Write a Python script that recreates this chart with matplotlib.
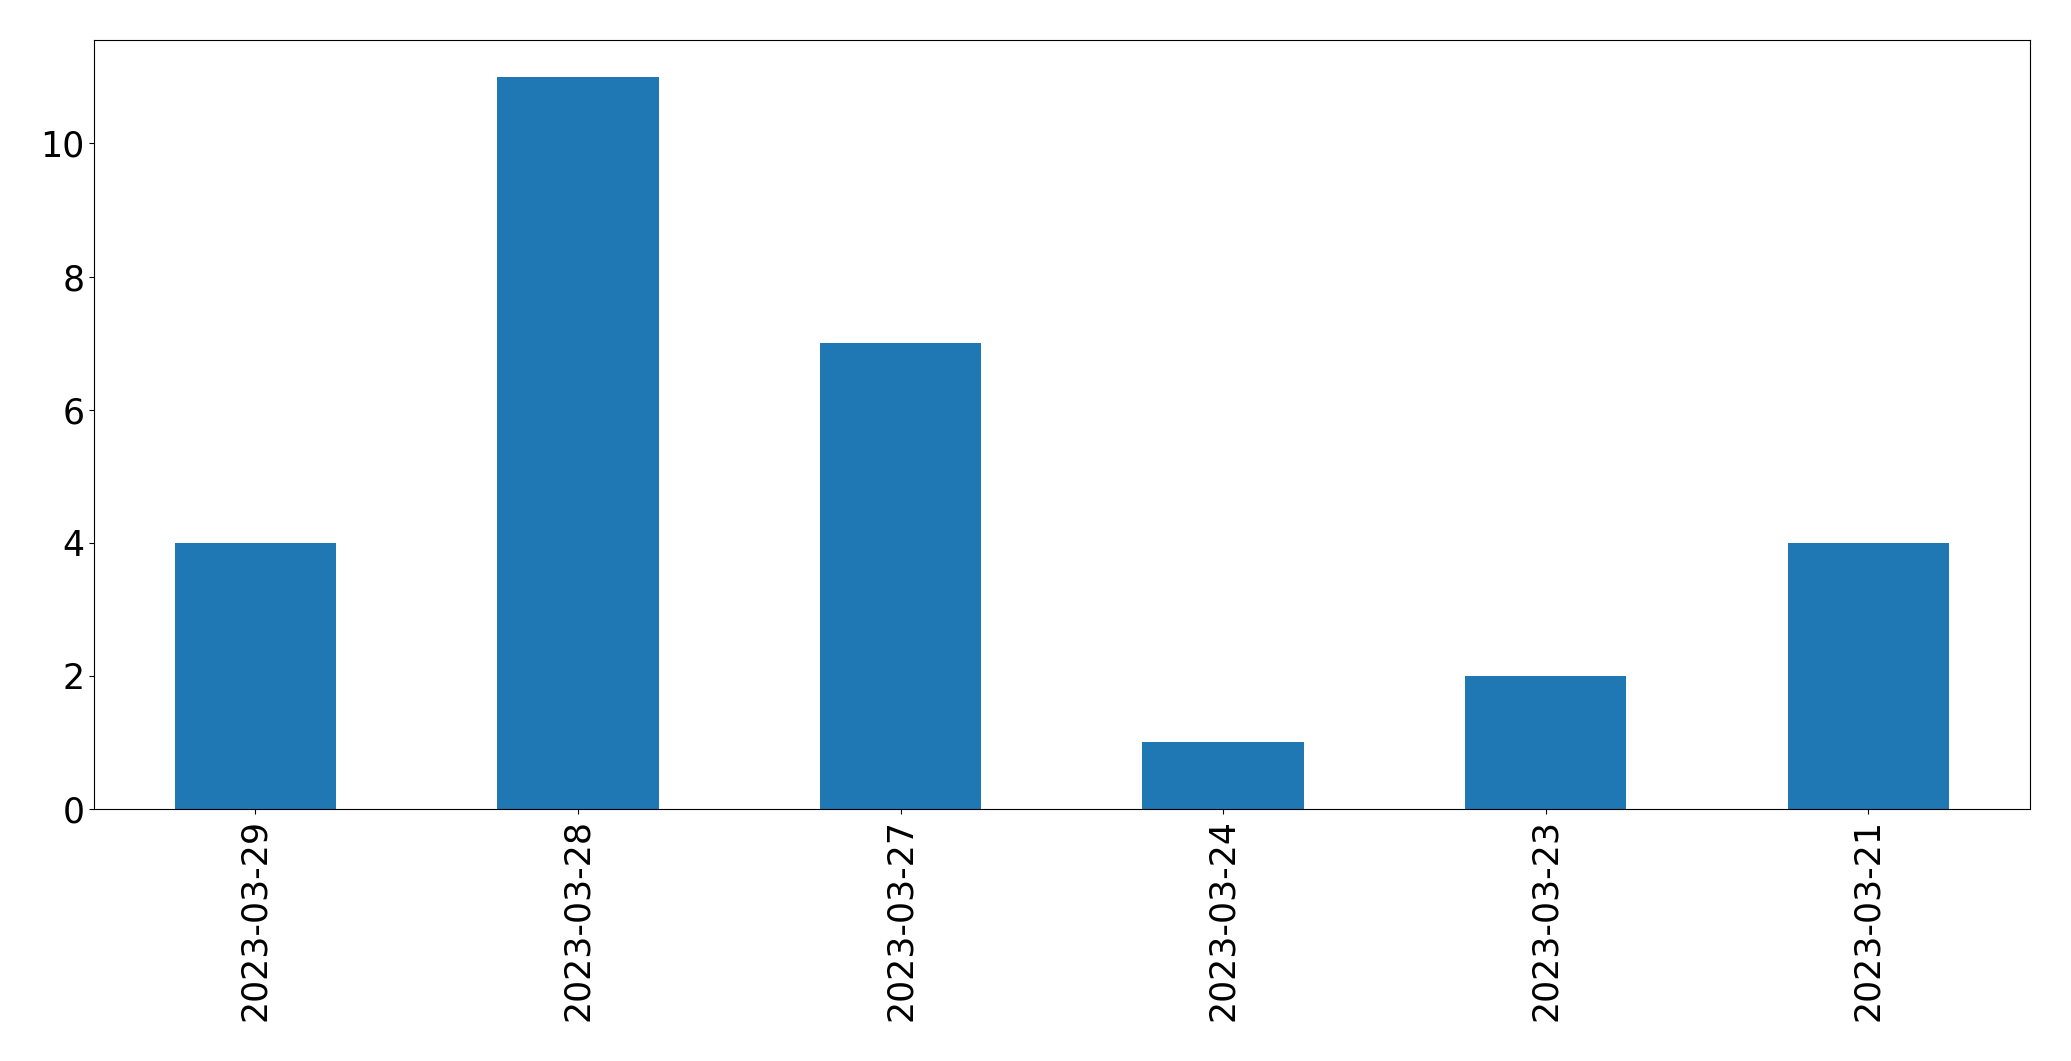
import matplotlib
matplotlib.use("Agg")
import matplotlib.pyplot as plt
import numpy as np

dates = ["2023-03-29", "2023-03-28", "2023-03-27", "2023-03-24", "2023-03-23", "2023-03-21"]
counts = [4, 11, 7, 1, 2, 4]

fig = plt.figure(figsize=(20.71, 10.61), dpi=100)
ax = fig.add_axes([0.0454, 0.2375, 0.9346, 0.7245])

x = np.arange(len(dates))
ax.bar(x, counts, width=0.5, color="#1f77b4")
ax.set_xlim(-0.5, len(dates) - 0.5)
ax.set_ylim(0, 11.55)
ax.set_xticks(x)
ax.set_xticklabels(dates, rotation=90)
ax.tick_params(labelsize=25)

fig.savefig("out.png", dpi=100)
